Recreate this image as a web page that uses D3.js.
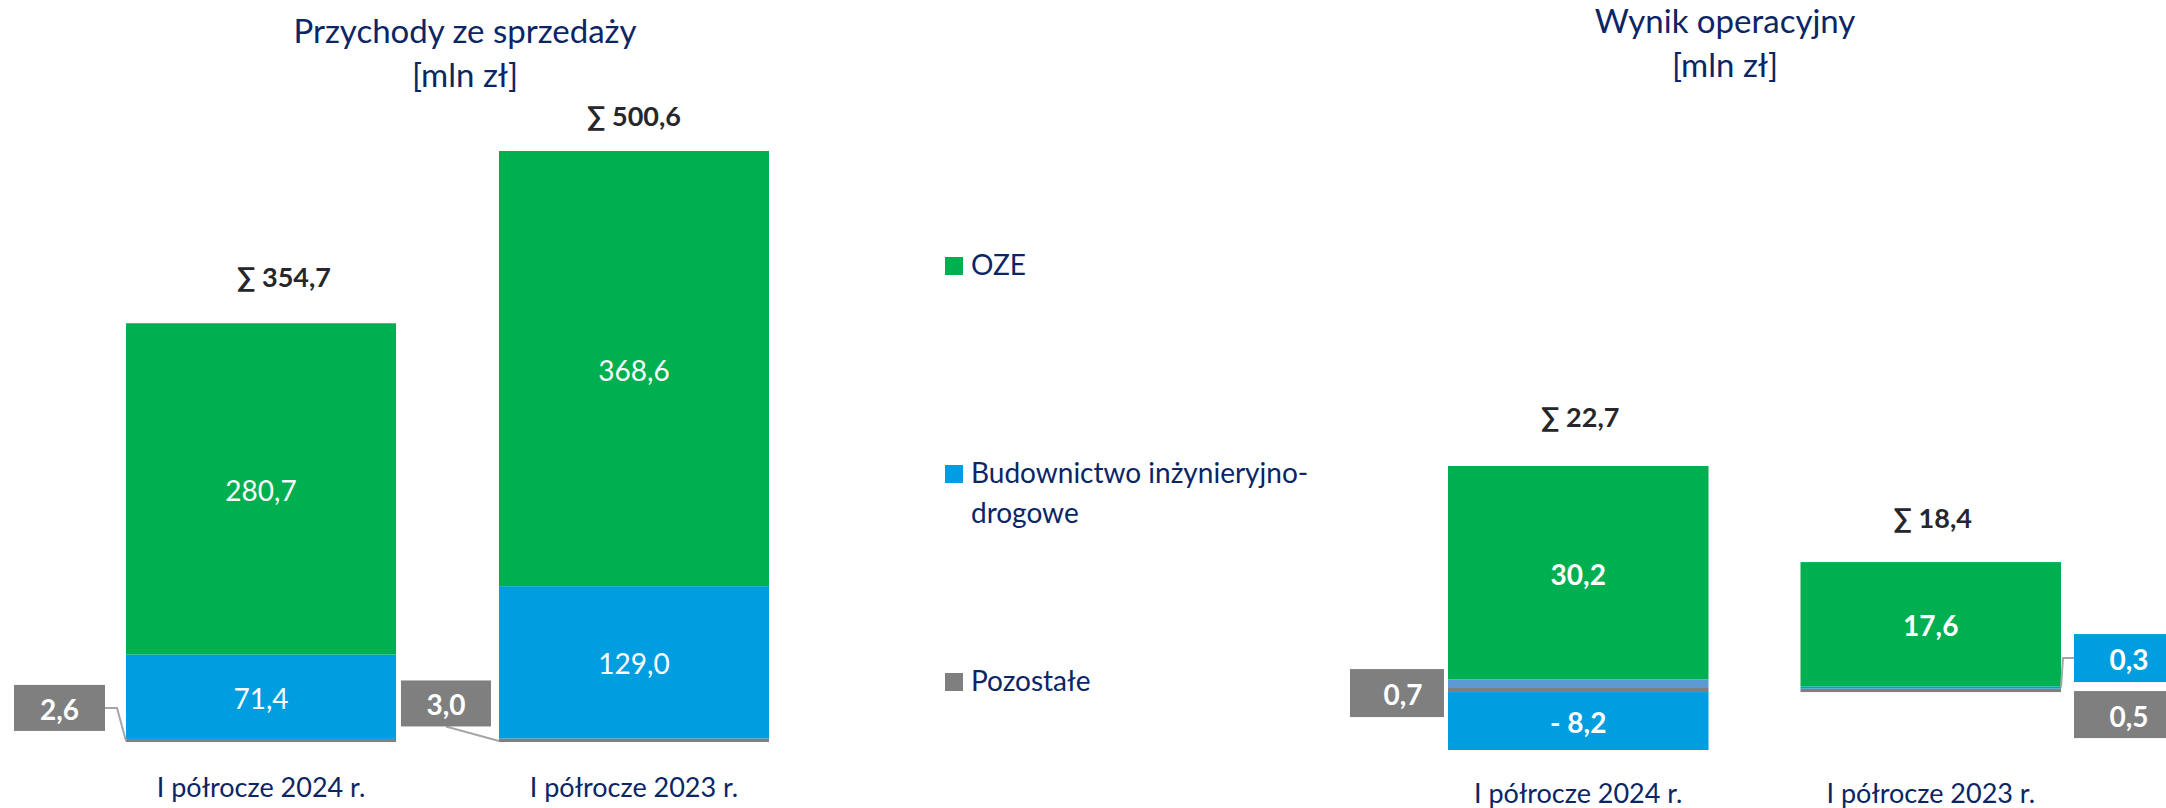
<!DOCTYPE html>
<html lang="pl">
<head>
<meta charset="utf-8">
<title>Przychody i wynik operacyjny</title>
<script src="https://cdn.jsdelivr.net/npm/d3@7"></script>
<style>
  body { margin: 0; background: #fff; }
  svg { display: block; font-family: Lato, "Open Sans", sans-serif; }
  .title { fill: #0b2565; font-size: 33px; }
  .cat { fill: #0b2565; font-size: 27px; }
  .legend { fill: #0b2565; font-size: 28px; }
  .sum { fill: #26262b; font-size: 27px; font-weight: bold; }
  .inside { fill: #fff; font-size: 28px; }
  .callout { fill: #fff; font-size: 28px; font-weight: bold; }
</style>
</head>
<body>
<svg width="2166" height="808"></svg>
<script>
// --- data ---
const categories = ["I półrocze 2024 r.", "I półrocze 2023 r."];

// przychody ze sprzedaży [mln zł]
const revPozostale = [2.6, 3.0];
const revBudownictwo = [71.4, 129.0];
const revOze = [280.7, 368.6];
const revTotals = [354.7, 500.6];

// wynik operacyjny [mln zł]
const opPozostale = [0.7, 0.5];
const opBudownictwo = [-8.2, 0.3];
const opInne = [1.1, 0.0];      // thin light-blue sliver, not in legend
const opOze = [30.2, 17.6];
const opTotals = [22.7, 18.4];

const legendNames = ["OZE", "Budownictwo inżynieryjno-drogowe", "Pozostałe"];

const colors = {
  oze: "#00b050",
  bud: "#009ee0",
  poz: "#7f7f7f",
  inne: "#5b9bd5"
};

const svg = d3.select("svg");
const fmt = d3.formatLocale({decimal: ",", thousands: " ", grouping: [3], currency: ["", " zł"]}).format(".1f");
const lab = v => v < 0 ? "- " + fmt(-v) : fmt(v);

// build row tables for d3.stack
const revRows = categories.map((c, i) => ({cat: c, poz: revPozostale[i], bud: revBudownictwo[i], oze: revOze[i]}));
const opRows = categories.map((c, i) => ({cat: c, poz: opPozostale[i], bud: opBudownictwo[i], inne: opInne[i], oze: opOze[i]}));

const revStack = d3.stack().keys(["poz", "bud", "oze"])(revRows);
const opStack = d3.stack().keys(["poz", "bud", "inne", "oze"]).offset(d3.stackOffsetDiverging)(opRows);

// scales
const xRev = d3.scaleBand().domain(categories).range([126, 769]).paddingInner(0.276);
const yRev = d3.scaleLinear().domain([0, d3.max(revTotals)]).range([742, 151]);

const xOp = d3.scaleBand().domain(categories).range([1448, 2061]).paddingInner(0.261);
const yOp = d3.scaleLinear().domain([-8.2, 32.0]).range([750, 466]);

function drawBars(stack, x, y) {
  const g = svg.append("g");
  stack.forEach(s => {
    g.selectAll(null)
      .data(s)
      .enter()
      .append("rect")
      .attr("x", d => x(d.data.cat))
      .attr("width", x.bandwidth())
      .attr("y", d => y(Math.max(d[0], d[1])))
      .attr("height", d => Math.abs(y(d[0]) - y(d[1])))
      .attr("fill", colors[s.key]);
  });
}

drawBars(revStack, xRev, yRev);
drawBars(opStack, xOp, yOp);

// labels inside segments
function insideLabels(stack, keys, x, y, bold) {
  stack.filter(s => keys.includes(s.key)).forEach(s => {
    svg.selectAll(null)
      .data(s.filter(d => Math.abs(y(d[0]) - y(d[1])) > 30))
      .enter()
      .append("text")
      .attr("class", "inside")
      .attr("font-weight", bold ? "bold" : "normal")
      .attr("text-anchor", "middle")
      .attr("dominant-baseline", "central")
      .attr("x", d => x(d.data.cat) + x.bandwidth() / 2)
      .attr("y", d => (y(d[0]) + y(d[1])) / 2 + 1)
      .text(d => lab(d.data[s.key]));
  });
}
insideLabels(revStack, ["bud", "oze"], xRev, yRev, false);
insideLabels(opStack, ["bud", "oze"], xOp, yOp, true);

// sum labels
svg.selectAll(null).data(revTotals).enter().append("text")
  .attr("class", "sum")
  .attr("text-anchor", "middle")
  .attr("x", (d, i) => xRev(categories[i]) + xRev.bandwidth() / 2 + (i === 0 ? 23 : 0))
  .attr("y", (d, i) => yRev(d) - (i === 0 ? 36 : 25))
  .text(d => "∑ " + fmt(d));

svg.selectAll(null).data(opTotals).enter().append("text")
  .attr("class", "sum")
  .attr("text-anchor", "middle")
  .attr("x", (d, i) => xOp(categories[i]) + xOp.bandwidth() / 2 + 2)
  .attr("y", (d, i) => i === 0 ? yOp(opTotals[0] + opInne[0] - opBudownictwo[0]) - 39 : yOp(d) - 34)
  .text(d => "∑ " + fmt(d));

// callout boxes
function callout(bx, by, bw, bh, color, text, tdx, leader) {
  if (leader) {
    svg.append("path")
      .attr("d", d3.line()(leader))
      .attr("fill", "none")
      .attr("stroke", "#a6a6a6")
      .attr("stroke-width", 2);
  }
  svg.append("rect")
    .attr("x", bx).attr("y", by)
    .attr("width", bw).attr("height", bh)
    .attr("fill", color);
  svg.append("text")
    .attr("class", "callout")
    .attr("text-anchor", "middle")
    .attr("dominant-baseline", "central")
    .attr("x", bx + bw / 2 + tdx)
    .attr("y", by + bh / 2 + 1)
    .text(text);
}

// przychody - Pozostałe
{
  const l0 = xRev(categories[0]);
  const y0 = yRev(revPozostale[0]);
  callout(l0 - 112, y0 - 54, 91, 46, colors.poz, lab(revPozostale[0]), 0,
    [[l0 - 21, y0 - 31], [l0 - 9, y0 - 31], [l0, yRev(0) - 1]]);
  const l1 = xRev(categories[1]);
  const y1 = yRev(revPozostale[1]);
  callout(l1 - 98, y1 - 58, 90, 46, colors.poz, lab(revPozostale[1]), 0,
    [[l1 - 53, y1 - 12], [l1, yRev(0) - 1]]);
}

// wynik - Pozostałe 2024, Budownictwo 2023, Pozostałe 2023
{
  const l0 = xOp(categories[0]);
  callout(l0 - 98, yOp(0) - 23, 94, 48, colors.poz, lab(opPozostale[0]), 6, null);
  const r1 = xOp(categories[1]) + xOp.bandwidth();
  const yb = yOp(opPozostale[1] + opBudownictwo[1] / 2);
  callout(r1 + 13, yOp(0) - 58, 110, 48, colors.bud, lab(opBudownictwo[1]), 0,
    [[r1 + 13, yOp(0) - 34], [r1 + 2, yOp(0) - 34], [r1, yb]]);
  callout(r1 + 13, yOp(0) - 1, 110, 47, colors.poz, lab(opPozostale[1]), 0, null);
}

// category labels
svg.selectAll(null).data(categories).enter().append("text")
  .attr("class", "cat")
  .attr("text-anchor", "middle")
  .attr("x", d => xRev(d) + xRev.bandwidth() / 2)
  .attr("y", 797)
  .text(d => d);
svg.selectAll(null).data(categories).enter().append("text")
  .attr("class", "cat")
  .attr("text-anchor", "middle")
  .attr("x", d => xOp(d) + xOp.bandwidth() / 2)
  .attr("y", 803)
  .text(d => d);

// titles
const t1 = svg.append("text").attr("class", "title").attr("text-anchor", "middle");
t1.append("tspan").attr("x", 465).attr("y", 43).text("Przychody ze sprzedaży");
t1.append("tspan").attr("x", 465).attr("y", 87).text("[mln zł]");
const t2 = svg.append("text").attr("class", "title").attr("text-anchor", "middle");
t2.append("tspan").attr("x", 1725).attr("y", 33).text("Wynik operacyjny");
t2.append("tspan").attr("x", 1725).attr("y", 77).text("[mln zł]");

// legend
const legColors = [colors.oze, colors.bud, colors.poz];
const legY = [257, 465, 673];
const leg = svg.append("g");
legendNames.forEach((name, i) => {
  leg.append("rect")
    .attr("x", 945).attr("y", legY[i])
    .attr("width", 18).attr("height", 18)
    .attr("fill", legColors[i]);
  const t = leg.append("text").attr("class", "legend");
  if (i === 1) {
    t.append("tspan").attr("x", 971).attr("y", legY[i] + 18).text("Budownictwo inżynieryjno-");
    t.append("tspan").attr("x", 971).attr("y", legY[i] + 58).text("drogowe");
  } else {
    t.attr("x", 971).attr("y", legY[i] + 18).text(name);
  }
});
</script>
</body>
</html>
